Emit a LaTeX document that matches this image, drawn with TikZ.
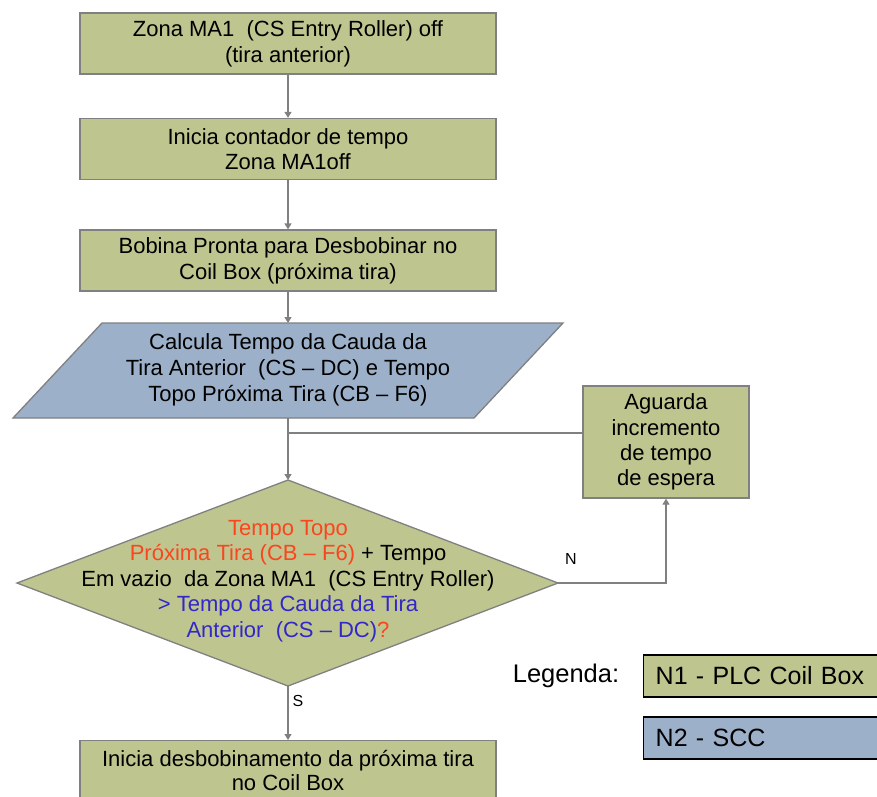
\documentclass[tikz,border=0pt]{standalone}
\usepackage{fontspec}
\setmainfont{Liberation Sans}
\usetikzlibrary{arrows.meta,calc}
\definecolor{olivefill}{RGB}{190,197,143}
\definecolor{bluefill}{RGB}{156,176,201}
\definecolor{linegray}{RGB}{128,128,128}
\definecolor{txtred}{RGB}{250,70,30}
\definecolor{txtblue}{RGB}{50,40,200}
\tikzset{
  x=1pt,y=-1pt,
  flowfont/.style={font=\fontsize{22}{25.7}\selectfont},
  flow/.style={draw=linegray,line width=1.3pt,fill=olivefill,align=center,flowfont,inner sep=2pt},
  stepbox/.style={flow,minimum width=416pt,minimum height=61pt},
  conn/.style={draw=linegray,line width=1.3pt,-{Triangle[width=7pt,length=6pt]}},
  plain/.style={draw=linegray,line width=1.3pt},
  legbox/.style={draw=black,line width=1.4pt,anchor=west,minimum width=260pt,minimum height=42pt,text width=240pt,align=left,font=\fontsize{25}{28}\selectfont,inner xsep=12pt},
  lbl/.style={font=\fontsize{16}{18}\selectfont}
}
\begin{document}
\begin{tikzpicture}
\useasboundingbox (0,0) rectangle (877,796);
\node[stepbox] (b1) at (288,43.5) {Zona MA1\ \ (CS Entry Roller) off\\(tira anterior)};
\node[stepbox] (b2) at (288,149) {Inicia contador de tempo\\Zona MA1off};
\node[stepbox] (b3) at (288,260.5) {Bobina Pronta para Desbobinar no\\Coil Box (próxima tira)};
% parallelogram
\coordinate (ptop) at (288,323);
\coordinate (pbot) at (288,418);
\draw[plain,fill=bluefill] (102,323) -- (563,323) -- (474,418) -- (13,418) -- cycle;
\node[align=center,flowfont] (par) at (288,370) {Calcula Tempo da Cauda da\\Tira Anterior\ \ (CS -- DC) e Tempo\\Topo Próxima Tira (CB -- F6)};
% diamond
\coordinate (dtop) at (288,480);
\coordinate (dright) at (558,583);
\coordinate (dbot) at (288,686);
\coordinate (dleft) at (17,583);
\draw[plain,fill=olivefill] (dtop) -- (dright) -- (dbot) -- (dleft) -- cycle;
\node[align=center,font=\fontsize{22}{25.4}\selectfont] (dec) at (288,581) {\textcolor{txtred}{Tempo Topo}\\\textcolor{txtred}{Próxima Tira (CB -- F6)} + Tempo\\Em vazio\ \ da Zona MA1\ \ (CS Entry Roller)\\\textcolor{txtblue}{> Tempo da Cauda da Tira}\\\textcolor{txtblue}{Anterior\ \ (CS -- DC)}\textcolor{txtred}{?}};
% wait box
\node[flow,minimum width=166pt,minimum height=112pt,font=\fontsize{22}{25.3}\selectfont] (agu) at (666,442) {Aguarda\\incremento\\de tempo\\de espera};
% final box (runs past the bottom edge)
\node[stepbox,minimum height=70pt,anchor=north] (b4) at (288,740) {};
\node[align=center,font=\fontsize{22}{24}\selectfont] (b4t) at (288,770) {Inicia desbobinamento da próxima tira\\no Coil Box};
% connectors
\draw[conn] (b1.south) -- (b2.north);
\draw[conn] (b2.south) -- (b3.north);
\draw[conn] (b3.south) -- (ptop);
\coordinate (j) at (288,433);
\draw[conn] (pbot) -- (dtop);
\draw[plain] (agu.west |- j) -- (j);
\draw[conn] (dright) -| (agu.south);
\draw[conn] (dbot) -- (b4.north);
\node[lbl] (ln) at (571,559) {N};
\node[lbl] (ls) at (298,701) {S};
% legend
\node[font=\fontsize{25.5}{28}\selectfont] (leg) at (566,676) {Legenda:};
\node[legbox,fill=olivefill] (n1) at (643,676) {N1 - PLC Coil Box};
\node[legbox,fill=bluefill] (n2) at (643,738) {N2 - SCC};
\end{tikzpicture}
\end{document}
